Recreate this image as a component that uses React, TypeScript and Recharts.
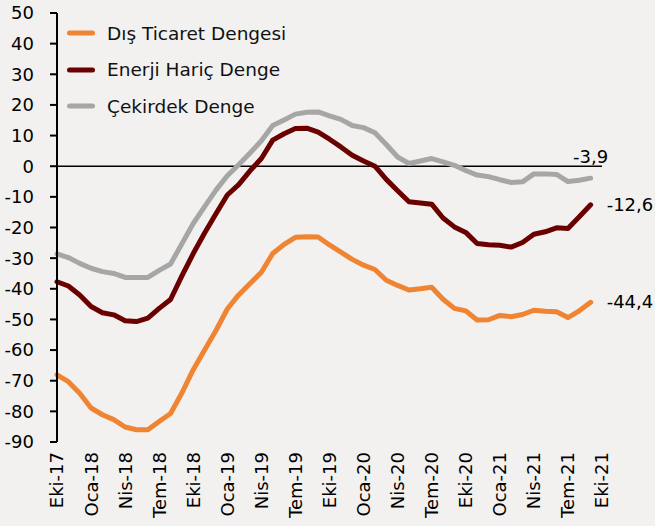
import React from 'react';
import { LineChart, Line, XAxis, YAxis, ReferenceLine, Legend, LabelList } from 'recharts';

const categories = [
  'Eki-17','Kas-17','Ara-17','Oca-18','Şub-18','Mar-18','Nis-18','May-18','Haz-18','Tem-18','Ağu-18','Eyl-18',
  'Eki-18','Kas-18','Ara-18','Oca-19','Şub-19','Mar-19','Nis-19','May-19','Haz-19','Tem-19','Ağu-19','Eyl-19',
  'Eki-19','Kas-19','Ara-19','Oca-20','Şub-20','Mar-20','Nis-20','May-20','Haz-20','Tem-20','Ağu-20','Eyl-20',
  'Eki-20','Kas-20','Ara-20','Oca-21','Şub-21','Mar-21','Nis-21','May-21','Haz-21','Tem-21','Ağu-21','Eyl-21',
  'Eki-21',
];

const disTicaret = [
  -68.1, -70.3, -74.1, -78.9, -81.1, -82.7, -85.1, -86, -86, -83.3, -80.7, -74,
  -66.4, -60, -53.6, -46.6, -42, -38.3, -34.6, -28.5, -25.5, -23.2, -23, -23.1,
  -25.7, -28, -30.4, -32.3, -33.7, -37.2, -38.9, -40.4, -40, -39.5, -43.4, -46.4,
  -47.2, -50.2, -50.1, -48.7, -49.1, -48.4, -47, -47.3, -47.5, -49.4, -47.2, -44.4,
  null,
];

const enerjiHaric = [
  -37.7, -39.1, -42, -45.8, -47.8, -48.5, -50.4, -50.7, -49.6, -46.4, -43.5, -35.8,
  -28.5, -21.8, -15.5, -9.4, -6, -1.5, 2.5, 8.5, 10.6, 12.3, 12.4, 11.1,
  8.8, 6.3, 3.6, 1.7, 0, -4.3, -8, -11.6, -12, -12.4, -16.9, -19.8,
  -21.6, -25.2, -25.6, -25.8, -26.4, -24.9, -22.2, -21.4, -20.1, -20.3, -16.5, -12.6,
  null,
];

const cekirdek = [
  -28.6, -29.8, -31.7, -33.3, -34.4, -35, -36.3, -36.3, -36.3, -34, -31.9, -25.3,
  -18.7, -13.2, -7.8, -3.1, 0.5, 4.3, 8.3, 13.3, 15.1, 17, 17.6, 17.7,
  16.4, 15.3, 13.3, 12.6, 10.9, 7.1, 3, 0.9, 1.7, 2.5, 1.4, 0.3,
  -1.4, -2.9, -3.4, -4.4, -5.3, -5.1, -2.5, -2.5, -2.7, -5, -4.6, -3.9,
  null,
];

const yTicks = [50, 40, 30, 20, 10, 0, -10, -20, -30, -40, -50, -60, -70, -80, -90];

const seriesNames = ['Dış Ticaret Dengesi', 'Enerji Hariç Denge', 'Çekirdek Denge'];
const seriesColors = ['#EF8433', '#6A0000', '#A6A6A6'];

const data = categories.map((c, i) => ({
  cat: c,
  dis: disTicaret[i],
  enerji: enerjiHaric[i],
  cekirdek: cekirdek[i],
}));

const LAST = 47;
const FONT = "'DejaVu Sans', Verdana, sans-serif";

const fmt = (v: number) => String(v).replace('.', ',');

const makeEndLabel = (dx: number, dy: number, anchor: string) => (props: any) => {
  const { x, y, index, value } = props;
  if (index !== LAST || value == null) return null;
  return (
    <text x={x + dx} y={y + dy} textAnchor={anchor} fontSize={18} fontFamily={FONT} fill="#000">
      {fmt(value)}
    </text>
  );
};

const XTick = (props: any) => {
  const { x, y, payload } = props;
  return (
    <g transform={`translate(${x},${y})`}>
      <text transform="rotate(-90)" textAnchor="end" dy="0.36em" fontSize={18} fontFamily={FONT} fill="#000">
        {payload.value}
      </text>
    </g>
  );
};

const renderLegend = (props: any) => {
  const payload = props.payload || [];
  return (
    <div style={{ position: 'absolute', left: 0, top: 0 }}>
      {payload.map((p: any, k: number) => (
        <div
          key={k}
          style={{
            position: 'absolute',
            left: 62,
            top: 33 + k * 36.7 - 12,
            height: 24,
            display: 'flex',
            alignItems: 'center',
            whiteSpace: 'nowrap',
          }}
        >
          <svg width={40} height={24} style={{ display: 'block' }}>
            <line x1={7.5} y1={12} x2={30.5} y2={12} stroke={p.color} strokeWidth={5} strokeLinecap="round" />
          </svg>
          <span style={{ fontFamily: FONT, fontSize: 18.5, color: '#111', marginLeft: 5 }}>{p.value}</span>
        </div>
      ))}
    </div>
  );
};

export default function App() {
  return (
    <div style={{ position: 'absolute', left: 0, top: 0, width: 655, height: 526, background: '#F2F1EF' }}>
      <LineChart width={655} height={526} data={data} margin={{ top: 13, right: 53, bottom: 0, left: 0 }}>
        <XAxis
          dataKey="cat"
          interval={2}
          axisLine={false}
          tickLine={false}
          tickSize={0}
          tickMargin={10}
          height={84}
          tick={<XTick />}
        />
        <YAxis
          domain={[-90, 50]}
          ticks={yTicks}
          interval={0}
          width={57}
          axisLine={{ stroke: '#000', strokeWidth: 2 }}
          tickLine={{ stroke: '#000', strokeWidth: 2 }}
          tickSize={7}
          tickMargin={16}
          tick={{ fill: '#000', fontSize: 18, fontFamily: FONT }}
        />
        <ReferenceLine y={0} stroke="#000" strokeWidth={1.5} />
        <Legend
          content={renderLegend}
          wrapperStyle={{ position: 'absolute', left: 0, top: 0, width: 0, height: 0, overflow: 'visible' }}
        />
        <Line
          dataKey="dis"
          name={seriesNames[0]}
          stroke={seriesColors[0]}
          strokeWidth={5}
          dot={false}
          isAnimationActive={false}
          strokeLinejoin="round"
          strokeLinecap="round"
        >
          <LabelList dataKey="dis" content={makeEndLabel(16, 6, 'start')} />
        </Line>
        <Line
          dataKey="enerji"
          name={seriesNames[1]}
          stroke={seriesColors[1]}
          strokeWidth={5}
          dot={false}
          isAnimationActive={false}
          strokeLinejoin="round"
          strokeLinecap="round"
        >
          <LabelList dataKey="enerji" content={makeEndLabel(16, 6, 'start')} />
        </Line>
        <Line
          dataKey="cekirdek"
          name={seriesNames[2]}
          stroke={seriesColors[2]}
          strokeWidth={5}
          dot={false}
          isAnimationActive={false}
          strokeLinejoin="round"
          strokeLinecap="round"
        >
          <LabelList dataKey="cekirdek" content={makeEndLabel(0, -15, 'middle')} />
        </Line>
      </LineChart>
    </div>
  );
}
